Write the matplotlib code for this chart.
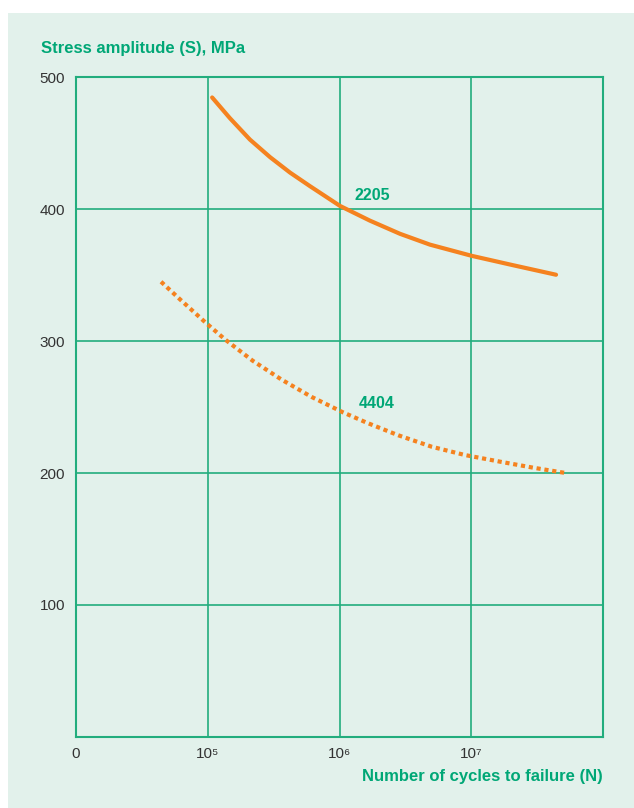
import matplotlib.pyplot as plt
from matplotlib.patches import Rectangle

# curve points (cycles, MPa)
n_2205 = [1.08e5, 1.47e5, 2.09e5, 2.97e5, 4.21e5, 5.97e5, 1.01e6, 1.70e6,
          2.88e6, 4.86e6, 1.01e7, 2.08e7, 4.40e7]
s_2205 = [484.5, 468.9, 452.6, 439.3, 427.6, 417.3, 402.3, 391.2,
          381.2, 373.0, 364.5, 357.4, 350.2]
n_4404 = [4.42e4, 6.15e4, 9.64e4, 1.36e5, 2.19e5, 3.64e5, 6.15e5, 1.06e6,
          1.61e6, 2.79e6, 5.01e6, 8.97e6, 1.65e7, 2.96e7, 5.36e7]
s_4404 = [344.9, 331.6, 313.9, 301.0, 285.1, 270.7, 257.6, 246.0,
          238.1, 228.6, 219.9, 213.6, 208.6, 204.0, 199.8]

xticks = [1e4, 1e5, 1e6, 1e7]
xticklabels = ['0', '10⁵', '10⁶', '10⁷']
yticks = [100, 200, 300, 400, 500]

orange = '#f5821f'
green = '#00a776'
grid_green = '#22ad7d'
bg = '#e2f1eb'

plt.rcParams['font.family'] = ['Liberation Sans', 'DejaVu Sans']

fig = plt.figure(figsize=(6.34, 8.08), dpi=100)
fig.patch.set_facecolor('white')
fig.patches.append(Rectangle((8/634, 0), 1, (808-13)/808, transform=fig.transFigure,
                             facecolor=bg, edgecolor='none', zorder=-5))

ax = fig.add_axes([76/634, 71/808, 527/634, 660/808])
ax.set_facecolor(bg)
ax.set_xscale('log')
ax.set_xlim(1e4, 1e8)
ax.set_ylim(0, 500)

ax.plot(n_2205, s_2205, color=orange, lw=3, solid_capstyle='round',
        solid_joinstyle='round', zorder=3)
ax.plot(n_4404, s_4404, color=orange, lw=3, linestyle=(0, (1, 0.9)),
        dash_capstyle='butt', zorder=3)

ax.text(1.3e6, 410, '2205', color=green, fontsize=11.5, fontweight='bold', va='center')
ax.text(1.4e6, 253, '4404', color=green, fontsize=11.5, fontweight='bold', va='center')

ax.set_xticks(xticks)
ax.set_xticklabels(xticklabels)
ax.xaxis.set_minor_locator(plt.NullLocator())
ax.set_yticks(yticks)
ax.tick_params(axis='both', length=0, labelsize=11, labelcolor='#333333')
ax.tick_params(axis='x', pad=7)
ax.tick_params(axis='y', pad=8)

for v in [1e5, 1e6, 1e7]:
    ax.axvline(v, color=grid_green, lw=1.2, zorder=1)
for v in [100, 200, 300, 400]:
    ax.axhline(v, color=grid_green, lw=1.2, zorder=1)
for sp in ax.spines.values():
    sp.set_color(grid_green)
    sp.set_linewidth(1.5)

fig.text(41/634, 1 - 48/808, 'Stress amplitude (S), MPa', color=green,
         fontsize=12, fontweight='bold', va='center', ha='left')
fig.text(603/634, 1 - 776/808, 'Number of cycles to failure (N)', color=green,
         fontsize=12, fontweight='bold', va='center', ha='right',
         family=['Liberation Sans Narrow', 'Liberation Sans'])

fig.savefig('out.png', dpi=100, facecolor=fig.get_facecolor())
